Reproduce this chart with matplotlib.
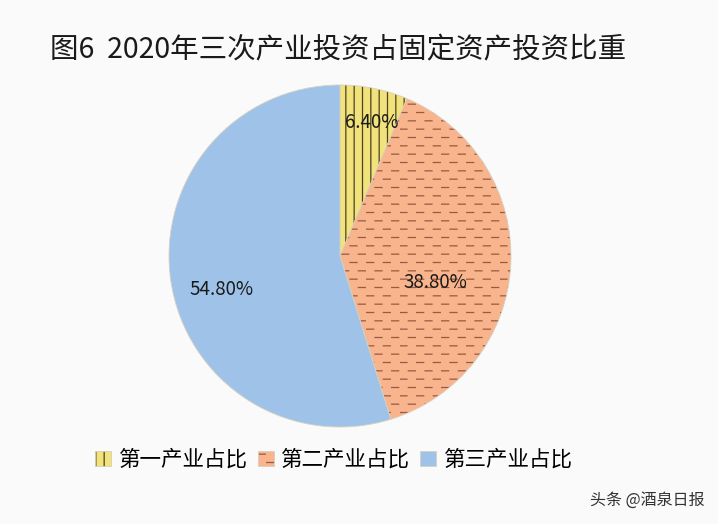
import warnings
import numpy as np
import matplotlib.pyplot as plt
from matplotlib import hatch as mhatch
from matplotlib.path import Path
from matplotlib.colors import to_rgba

warnings.filterwarnings('ignore')
plt.rcParams['font.family'] = ['Noto Sans CJK SC', 'DejaVu Sans']
plt.rcParams['hatch.linewidth'] = 0.9


class DashHatch(mhatch.HatchPatternBase):
    """short horizontal dashes in staggered rows, used with '~'"""
    rows = 12
    cols = 6

    def __init__(self, hatch, density):
        self.on = '~' in hatch
        self.num_vertices = self.rows * self.cols * 2 if self.on else 0

    def set_vertices_and_codes(self, vertices, codes):
        k = 0
        for i in range(self.rows):
            y = (i + 0.5) / self.rows
            shift = 0.5 / self.cols if i % 2 else 0.0
            for j in range(self.cols):
                x0 = (j / self.cols + shift) % 1.0
                x0 = min(x0, 1.0 - 0.075)
                vertices[k] = (x0, y)
                vertices[k + 1] = (x0 + 0.07, y)
                codes[k] = Path.MOVETO
                codes[k + 1] = Path.LINETO
                k += 2


mhatch._hatch_types.append(DashHatch)

# data
sectors = ['第一产业占比', '第二产业占比', '第三产业占比']
shares = [6.40, 38.80, 54.80]
colors = ['#F2E27C', '#F8B48C', '#9FC3E8']
hatches = ['||', '~', '']
hatch_colors = ['#4a4420', '#9a5a40', '#9FC3E8']
# label placement (fraction of radius, angle in degrees)
label_pos = [(0.80, 76.5), (0.58, -15.7), (0.72, 195.6)]

fig = plt.figure(figsize=(7.18, 5.24), dpi=100)
fig.patch.set_facecolor('#FAFAFA')

ax = fig.add_axes([169 / 718, 97 / 524, 342 / 718, 342 / 524])
wedges, texts = ax.pie(shares, colors=colors, startangle=90, counterclock=False,
                       wedgeprops=dict(linewidth=0.6, edgecolor='#d8d0c0'))
for w, h, hc in zip(wedges, hatches, hatch_colors):
    w.set_hatch(h)
    w._hatch_color = to_rgba(hc)
ax.set_aspect('equal')
ax.set_xlim(-1.0, 1.0)
ax.set_ylim(-1.0, 1.0)

for val, (r, ang) in zip(shares, label_pos):
    x = r * np.cos(np.radians(ang))
    y = r * np.sin(np.radians(ang))
    ax.text(x, y, f'{val:.2f}%', ha='center', va='center', fontsize=13.5,
            color='#1a1a1a')

fig.text(50 / 718, 1 - 50 / 524, '图6  2020年三次产业投资占固定资产投资比重',
         fontsize=20.5, color='#1a1a1a', ha='left', va='center')

fig.legend(wedges, sectors, loc='center', bbox_to_anchor=(334 / 718, 64 / 524),
           ncol=3, frameon=False, fontsize=15.5, handlelength=0.75, handleheight=0.75,
           handletextpad=0.35, columnspacing=0.45)

fig.text(705 / 718, 24 / 524, '头条 @酒泉日报', fontsize=11.5, color='#333333',
         ha='right', va='center')

fig.savefig('out.png', dpi=100, facecolor=fig.get_facecolor())
